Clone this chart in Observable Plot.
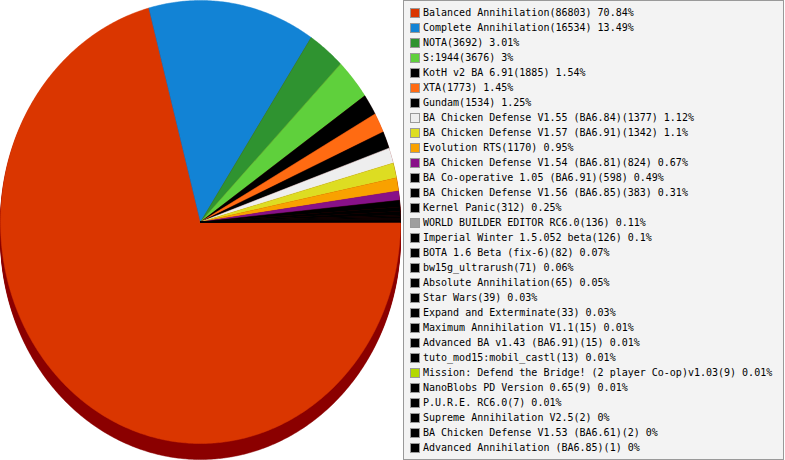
<!DOCTYPE html>
<html>
<head>
<meta charset="utf-8">
<script src="https://cdn.jsdelivr.net/npm/d3@7"></script>
<script src="https://cdn.jsdelivr.net/npm/@observablehq/plot@0.6"></script>
<style>
  body { margin: 0; background: #fff; }
  #wrap { position: relative; width: 785px; height: 460px; overflow: hidden; }
  #pie { position: absolute; left: 0; top: 0; }
  #legend {
    position: absolute; left: 403px; top: 0; width: 381px; height: 460px;
    box-sizing: border-box; border: 1px solid #999; background: #f3f3f3;
    padding-top: 4px;
    font-family: "DejaVu Sans Mono", monospace; font-size: 10px; color: #000;
  }
  .row { display: flex; align-items: center; height: 15px; white-space: pre; }
  .sw { width: 10px; height: 10px; box-sizing: border-box; border: 1px solid #999; margin-left: 6px; margin-right: 3px; flex: none; }
</style>
</head>
<body>
<div id="wrap">
  <div id="pie"></div>
  <div id="legend"></div>
</div>
<script>
const names = [
  "Balanced Annihilation", "Complete Annihilation", "NOTA", "S:1944",
  "KotH v2 BA 6.91", "XTA", "Gundam", "BA Chicken Defense V1.55 (BA6.84)",
  "BA Chicken Defense V1.57 (BA6.91)", "Evolution RTS", "BA Chicken Defense V1.54 (BA6.81)",
  "BA Co-operative 1.05 (BA6.91)", "BA Chicken Defense V1.56 (BA6.85)", "Kernel Panic",
  "WORLD BUILDER EDITOR RC6.0", "Imperial Winter 1.5.052 beta", "BOTA 1.6 Beta (fix-6)",
  "bw15g_ultrarush", "Absolute Annihilation", "Star Wars", "Expand and Exterminate",
  "Maximum Annihilation V1.1", "Advanced BA v1.43 (BA6.91)", "tuto_mod15:mobil_castl",
  "Mission: Defend the Bridge! (2 player Co-op)v1.03", "NanoBlobs PD Version 0.65",
  "P.U.R.E. RC6.0", "Supreme Annihilation V2.5", "BA Chicken Defense V1.53 (BA6.61)",
  "Advanced Annihilation (BA6.85)"
];
const counts = [86803, 16534, 3692, 3676, 1885, 1773, 1534, 1377, 1342, 1170, 824, 598, 383, 312,
  136, 126, 82, 71, 65, 39, 33, 15, 15, 13, 9, 9, 7, 2, 2, 1];
const colors = [
  "#da3600", "#1283d5", "#2f9330", "#5fd03c", "#000000", "#ff6b12", "#000000", "#eeeeee",
  "#dddd22", "#f9a100", "#881188", "#000000", "#000000", "#000000", "#9e9e9e", "#000000",
  "#000000", "#000000", "#000000", "#000000", "#000000", "#000000", "#000000", "#000000",
  "#b3d800", "#000000", "#000000", "#000000", "#000000", "#000000"
];
const sideColor = "#8b0000";

const total = d3.sum(counts);
const pct = v => +(v / total * 100).toFixed(2);

// slice outlines in unit-circle data coordinates, clockwise from 3 o'clock
const pts = [];
let acc = 0;
names.forEach((name, i) => {
  const a0 = acc / total * 2 * Math.PI;
  acc += counts[i];
  const a1 = acc / total * 2 * Math.PI;
  // slivers too thin to show are rendered as the black remainder wedge
  const color = pct(counts[i]) < 0.2 ? "#000000" : colors[i];
  pts.push({name, x: 0, y: 0, color});
  const steps = Math.max(1, Math.ceil((a1 - a0) / (Math.PI / 360)));
  for (let k = 0; k <= steps; k++) {
    const t = a0 + (a1 - a0) * k / steps;
    pts.push({name, x: Math.cos(t), y: -Math.sin(t), color});
  }
});

const depth = d3.range(1, 17);
const marks = depth.map(dy => Plot.line(pts, {x: "x", y: "y", z: "name", fill: sideColor, stroke: sideColor, strokeWidth: 0.5, dy}));
marks.push(Plot.line(pts, {x: "x", y: "y", z: "name", fill: "color", stroke: "color", strokeWidth: 0.5}));

const chart = Plot.plot({
  width: 403,
  height: 460,
  marginLeft: 0,
  marginRight: 3,
  marginTop: 0,
  marginBottom: 17,
  x: {domain: [-1, 1], axis: null},
  y: {domain: [-1, 1], axis: null},
  color: {type: "identity"},
  marks
});
document.getElementById("pie").appendChild(chart);

const legend = document.getElementById("legend");
names.forEach((name, i) => {
  const row = document.createElement("div");
  row.className = "row";
  const sw = document.createElement("span");
  sw.className = "sw";
  sw.style.background = colors[i];
  const tx = document.createElement("span");
  tx.textContent = `${name}(${counts[i]}) ${pct(counts[i])}%`;
  row.appendChild(sw);
  row.appendChild(tx);
  legend.appendChild(row);
});
</script>
</body>
</html>
